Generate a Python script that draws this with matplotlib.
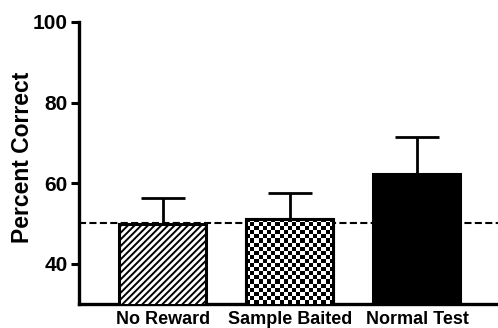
import matplotlib
matplotlib.use("Agg")
import matplotlib.pyplot as plt
import numpy as np

# Percent correct per condition, upward SEM bars
conditions = ["No Reward", "Sample Baited", "Normal Test"]
means = [49.9, 51.1, 62.3]
sems = [6.4, 6.4, 9.1]
chance = 50
yticks = [40, 60, 80, 100]

plt.rcParams["font.family"] = ["Liberation Sans", "DejaVu Sans"]
plt.rcParams["font.weight"] = "bold"
plt.rcParams["hatch.linewidth"] = 1.4

fig = plt.figure(figsize=(4.98, 3.28), dpi=100)
ax = fig.add_axes([0.1586, 0.0732, 0.8414, 0.8598])

x = np.arange(len(conditions))
ax.axhline(chance, color="black", lw=1.5, linestyle=(0, (3.4, 1.6)), zorder=1)

bars = ax.bar(x, means, width=0.685, bottom=0, color="white",
              edgecolor="black", linewidth=2.2, zorder=3)
bars[0].set_hatch("/////")
bars[2].set_facecolor("black")

ax.errorbar(x, means, yerr=[np.zeros(len(sems)), sems], fmt="none",
            ecolor="black", elinewidth=2.0, capsize=15.5, capthick=2.0,
            zorder=2)

ax.set_xlim(-0.661, 2.638)
ax.set_ylim(30, 100)

# checkerboard fill for the middle bar, clipped to the bar outline
b = bars[1]
checker = np.indices((21, 21)).sum(axis=0) % 2
im = ax.imshow(checker, cmap="gray", interpolation="nearest", aspect="auto",
               extent=[b.get_x(), b.get_x() + b.get_width(), 30, b.get_height()],
               zorder=3.5)
im.set_clip_path(b)
# redraw outline on top of the pattern
ax.bar(x[1], means[1], width=0.685, color="none", edgecolor="black",
       linewidth=2.2, zorder=4)

ax.set_yticks(yticks)
ax.set_yticklabels([str(t) for t in yticks], fontsize=15, fontweight="bold")
ax.set_xticks(x)
ax.set_xticklabels(conditions, fontsize=13, fontweight="bold")
ax.tick_params(axis="x", length=0, pad=5)
ax.tick_params(axis="y", length=6, width=2.2, pad=2)
ax.set_ylabel("Percent Correct", fontsize=16.5, fontweight="bold")
ax.yaxis.set_label_coords(-0.107, 0.52)

for s in ["top", "right"]:
    ax.spines[s].set_visible(False)
for s in ["left", "bottom"]:
    ax.spines[s].set_linewidth(2.4)

fig.savefig("out.png", dpi=100)
